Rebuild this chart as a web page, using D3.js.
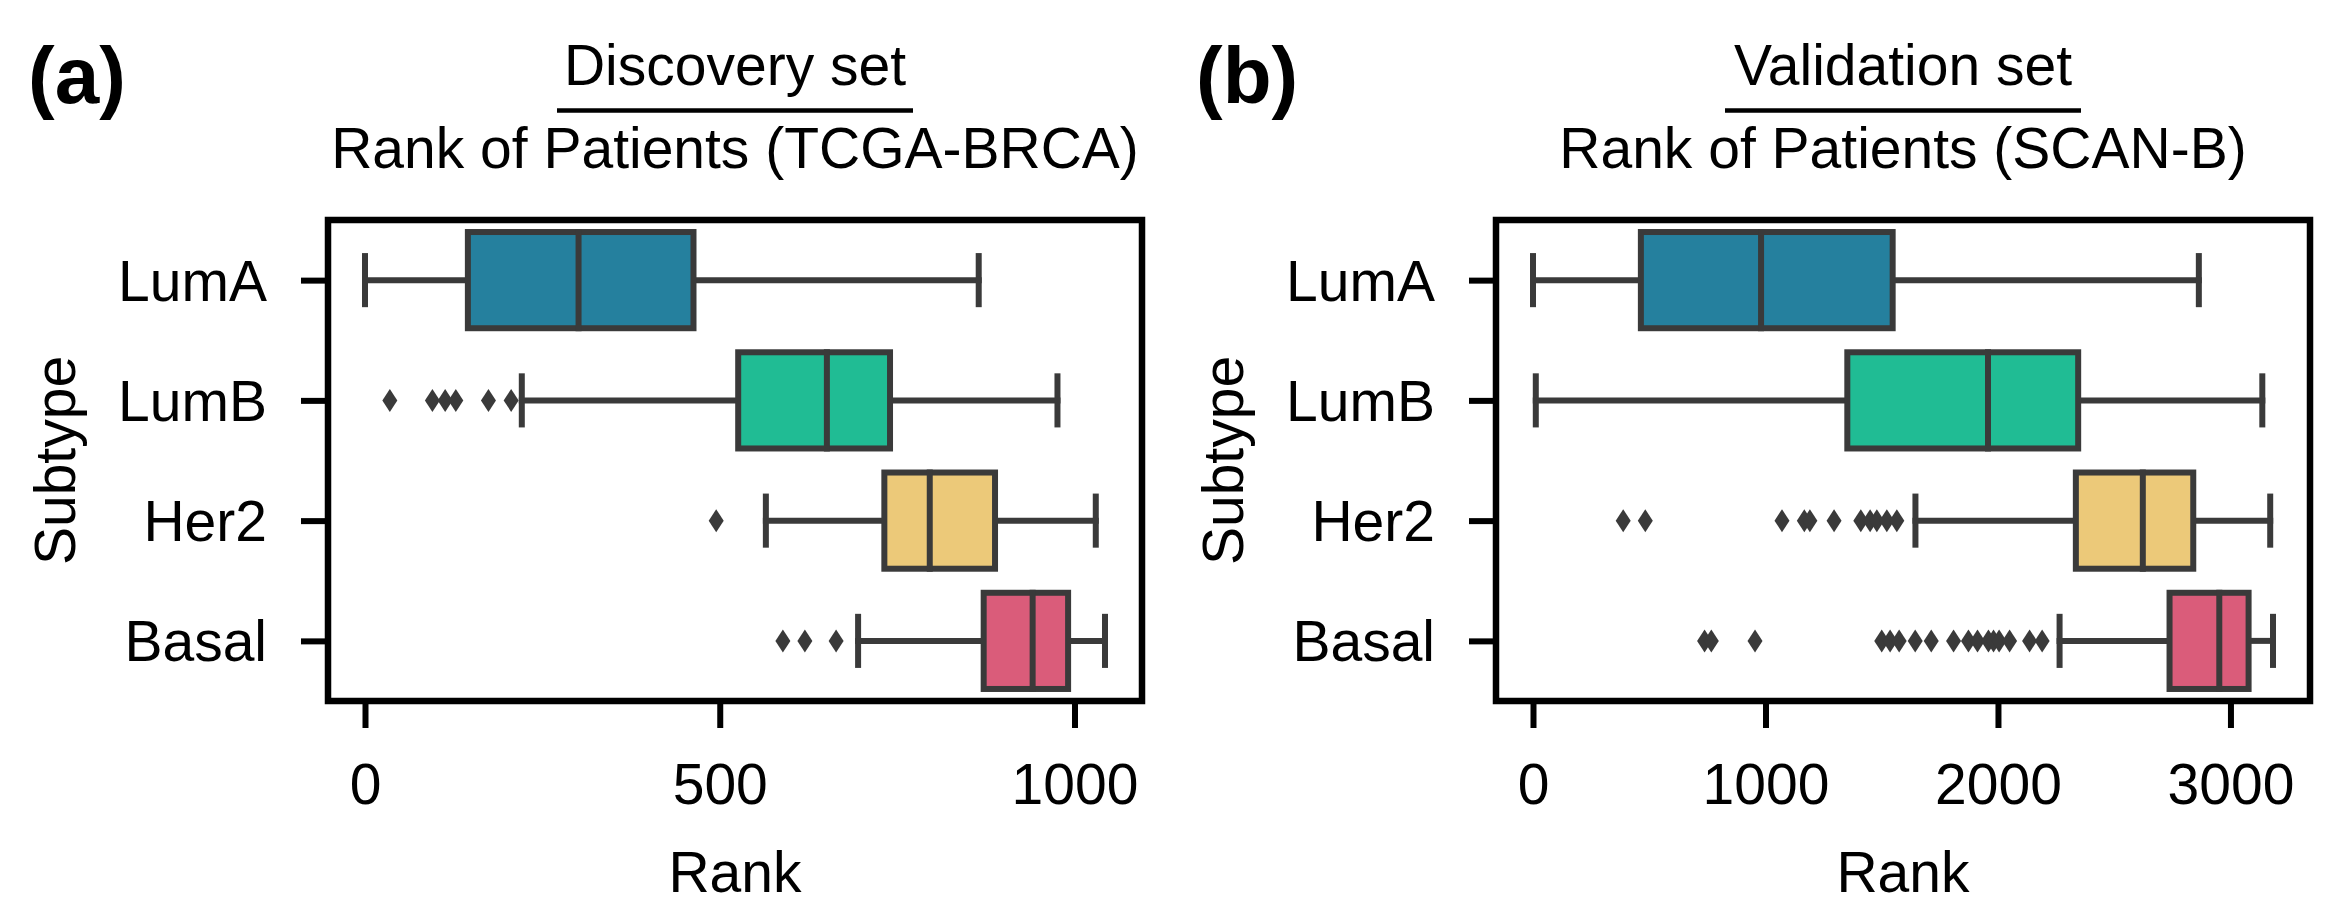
<!DOCTYPE html>
<html>
  <head>
    <meta charset="utf-8">
    <script src="https://d3js.org/d3.v7.min.js"></script>
    <style>
      body { margin: 0; background: white; }
      svg text { font-family: "Liberation Sans", Arial, Helvetica, sans-serif; fill: black; }
    </style>
  </head>
  <body>
    <div id="chart"></div>
    <script>
      // categories (top to bottom)
      const subtypes = ["LumA", "LumB", "Her2", "Basal"]
      const basePalette = ["#118AB2", "#06D6A0", "#FFD166", "#EF476F"]

      // (a) discovery set, TCGA-BRCA
      const tcgaWhiskerLow  = [0, 221, 565, 695]
      const tcgaQ1          = [145, 526, 732, 872]
      const tcgaMedian      = [301, 651, 796, 941]
      const tcgaQ3          = [463, 740, 888, 991]
      const tcgaWhiskerHigh = [865, 976, 1030, 1043]
      const tcgaOutliers = [
        [],
        [35, 95, 113, 128, 174, 206],
        [495],
        [589, 620, 664]
      ]
      const tcgaTicks = [0, 500, 1000]

      // (b) validation set, SCAN-B
      const scanbWhiskerLow  = [0, 12, 1645, 2265]
      const scanbQ1          = [464, 1352, 2335, 2738]
      const scanbMedian      = [981, 1957, 2623, 2952]
      const scanbQ3          = [1547, 2345, 2840, 3078]
      const scanbWhiskerHigh = [2864, 3137, 3171, 3183]
      const scanbOutliers = [
        [],
        [],
        [388, 483, 1071, 1167, 1191, 1295, 1410, 1450, 1479, 1522, 1565],
        [738, 767, 955, 1500, 1536, 1575, 1644, 1713, 1809, 1873, 1912, 1959, 1981, 2005, 2050, 2136, 2190]
      ]
      const scanbTicks = [0, 1000, 2000, 3000]

      const W = 2332, H = 916
      const FS = 57
      const edge = "#3a3a3a"
      // seaborn desaturates the palette to 75%
      const colors = basePalette.map(c => { const h = d3.hsl(c); h.s *= 0.75; return h.formatHex() })

      const svg = d3.select('#chart')
                    .append('svg')
                    .attr('width', W)
                    .attr('height', H)

      const panels = [
        {tag: '(a)', head: 'Discovery set', sub: 'Rank of Patients (TCGA-BRCA)', left: 328, right: 1142,
         lo: tcgaWhiskerLow, q1: tcgaQ1, med: tcgaMedian, q3: tcgaQ3, hi: tcgaWhiskerHigh, out: tcgaOutliers, ticks: tcgaTicks},
        {tag: '(b)', head: 'Validation set', sub: 'Rank of Patients (SCAN-B)', left: 1496, right: 2310,
         lo: scanbWhiskerLow, q1: scanbQ1, med: scanbMedian, q3: scanbQ3, hi: scanbWhiskerHigh, out: scanbOutliers, ticks: scanbTicks},
      ]
      const plotTop = 220, plotBottom = 701

      panels.forEach((p) => {
        const g = svg.append('g')
        const cx = (p.left + p.right) / 2

        // data extent + 5% margin, like matplotlib autoscale
        const allVals = p.lo.concat(p.hi, p.out.flat())
        const vmin = d3.min(allVals), vmax = d3.max(allVals)
        const pad = (vmax - vmin) * 0.05
        const x = d3.scaleLinear().domain([vmin - pad, vmax + pad]).range([p.left, p.right])
        const y = d3.scalePoint().domain(subtypes).range([plotTop, plotBottom]).padding(0.5)
        const boxH = y.step() * 0.8
        const capH = boxH * 0.5

        const rows = subtypes.map((s, i) => ({
          s: s, i: i, lo: p.lo[i], q1: p.q1[i], med: p.med[i], q3: p.q3[i], hi: p.hi[i], out: p.out[i]
        }))

        const box = g.selectAll('g.box')
                     .data(rows)
                     .join('g')
                     .attr('class', 'box')
                     .attr('transform', d => `translate(0,${y(d.s)})`)

        // whiskers
        box.append('line')
           .attr('x1', d => x(d.lo)).attr('x2', d => x(d.q1))
        box.append('line')
           .attr('x1', d => x(d.q3)).attr('x2', d => x(d.hi))
        // caps
        box.append('line')
           .attr('x1', d => x(d.lo)).attr('x2', d => x(d.lo))
           .attr('y1', -capH / 2).attr('y2', capH / 2)
        box.append('line')
           .attr('x1', d => x(d.hi)).attr('x2', d => x(d.hi))
           .attr('y1', -capH / 2).attr('y2', capH / 2)
        box.selectAll('line')
           .attr('stroke', edge)
           .attr('stroke-width', 6)
           .attr('stroke-linecap', 'square')

        box.append('rect')
           .attr('x', d => x(d.q1))
           .attr('width', d => x(d.q3) - x(d.q1))
           .attr('y', -boxH / 2)
           .attr('height', boxH)
           .attr('fill', d => colors[d.i])
           .attr('stroke', edge)
           .attr('stroke-width', 6)

        box.append('line')
           .attr('x1', d => x(d.med)).attr('x2', d => x(d.med))
           .attr('y1', -boxH / 2).attr('y2', boxH / 2)
           .attr('stroke', edge)
           .attr('stroke-width', 6)
           .attr('stroke-linecap', 'square')

        // outliers as thin diamonds
        box.selectAll('path.flier')
           .data(d => d.out)
           .join('path')
           .attr('class', 'flier')
           .attr('d', 'M0,-11.5L7.5,0L0,11.5L-7.5,0Z')
           .attr('transform', v => `translate(${x(v)},0)`)
           .attr('fill', edge)

        // axes
        const xAxis = g.append('g')
                       .attr('transform', `translate(0,${plotBottom})`)
                       .call(d3.axisBottom(x).tickValues(p.ticks).tickSize(27).tickPadding(36).tickFormat(d3.format('d')))
        const yAxis = g.append('g')
                       .attr('transform', `translate(${p.left},0)`)
                       .call(d3.axisLeft(y).tickSize(27).tickPadding(34))
        ;[xAxis, yAxis].forEach(a => {
          a.select('.domain').remove()
          a.selectAll('.tick line').attr('stroke', 'black').attr('stroke-width', 6)
          a.selectAll('.tick text').attr('font-size', FS).attr('fill', 'black')
        })
        yAxis.selectAll('.tick text').attr('dy', '0.35em')

        // frame
        g.append('rect')
         .attr('x', p.left).attr('y', plotTop)
         .attr('width', p.right - p.left).attr('height', plotBottom - plotTop)
         .attr('fill', 'none')
         .attr('stroke', 'black')
         .attr('stroke-width', 6.5)

        // labels
        g.append('text')
         .attr('x', cx).attr('y', 892)
         .attr('text-anchor', 'middle')
         .attr('font-size', FS)
         .text('Rank')
        g.append('text')
         .attr('transform', `translate(${p.left - 253},${(plotTop + plotBottom) / 2}) rotate(-90)`)
         .attr('text-anchor', 'middle')
         .attr('font-size', FS)
         .text('Subtype')

        // title: two lines separated by a rule
        g.append('text')
         .attr('x', cx).attr('y', 85)
         .attr('text-anchor', 'middle')
         .attr('font-size', FS)
         .text(p.head)
        g.append('line')
         .attr('x1', cx - 178).attr('x2', cx + 178)
         .attr('y1', 110.5).attr('y2', 110.5)
         .attr('stroke', 'black')
         .attr('stroke-width', 4.5)
        g.append('text')
         .attr('x', cx).attr('y', 168)
         .attr('text-anchor', 'middle')
         .attr('font-size', FS)
         .text(p.sub)

        // panel letter
        g.append('text')
         .attr('x', p.left - 300).attr('y', 103)
         .attr('font-size', 80)
         .attr('font-weight', 'bold')
         .text(p.tag)
      })
    </script>
  </body>
</html>
